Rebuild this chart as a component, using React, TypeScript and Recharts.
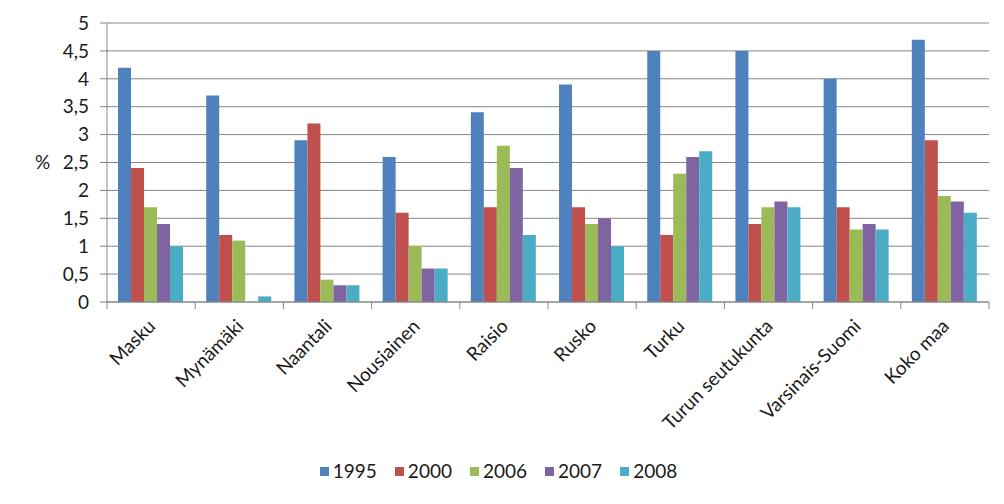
import React from 'react';
import { BarChart, Bar, XAxis, YAxis, CartesianGrid, Legend } from 'recharts';

const categories = [
  'Masku',
  'Mynämäki',
  'Naantali',
  'Nousiainen',
  'Raisio',
  'Rusko',
  'Turku',
  'Turun seutukunta',
  'Varsinais-Suomi',
  'Koko maa',
];

const years = ['1995', '2000', '2006', '2007', '2008'];

const v1995 = [4.2, 3.7, 2.9, 2.6, 3.4, 3.9, 4.5, 4.5, 4.0, 4.7];
const v2000 = [2.4, 1.2, 3.2, 1.6, 1.7, 1.7, 1.2, 1.4, 1.7, 2.9];
const v2006 = [1.7, 1.1, 0.4, 1.0, 2.8, 1.4, 2.3, 1.7, 1.3, 1.9];
const v2007 = [1.4, null, 0.3, 0.6, 2.4, 1.5, 2.6, 1.8, 1.4, 1.8];
const v2008 = [1.0, 0.1, 0.3, 0.6, 1.2, 1.0, 2.7, 1.7, 1.3, 1.6];

const yTicks = [0, 0.5, 1, 1.5, 2, 2.5, 3, 3.5, 4, 4.5, 5];

const COLORS = ['#4F81BD', '#C0504D', '#9BBB59', '#8064A2', '#4BACC6'];

const data = categories.map((name, i) => ({
  name,
  '1995': v1995[i],
  '2000': v2000[i],
  '2006': v2006[i],
  '2007': v2007[i],
  '2008': v2008[i],
}));

const W = 988;
const H = 488;
const LEFT = 99;
const RIGHT = 7;
const BAND = (W - LEFT - RIGHT) / categories.length;
const FONT = 'Lato, "Open Sans", sans-serif';
const FS = 19;
const AXIS = '#868686';
const TEXT = '#1a1a1a';

function XTick(props: any) {
  const { x, y, payload, index } = props;
  return (
    <g>
      <line x1={x - BAND / 2} y1={y} x2={x - BAND / 2} y2={y + 7} stroke={AXIS} />
      {index === categories.length - 1 && (
        <line x1={x + BAND / 2} y1={y} x2={x + BAND / 2} y2={y + 7} stroke={AXIS} />
      )}
      <text
        transform={`translate(${x + 2},${y + 22}) rotate(-45)`}
        textAnchor="end"
        dominantBaseline="middle"
        fontSize={FS}
        fontFamily={FONT}
        fill={TEXT}
      >
        {payload.value}
      </text>
    </g>
  );
}

function LegendContent() {
  return (
    <div
      style={{
        display: 'flex',
        justifyContent: 'center',
        paddingTop: 9,
        fontFamily: FONT,
        fontSize: FS,
        color: TEXT,
        lineHeight: '20px',
      }}
    >
      {years.map((y, i) => (
        <div key={y} style={{ display: 'flex', alignItems: 'center', marginRight: i < years.length - 1 ? 18 : 0 }}>
          <span style={{ width: 9, height: 9, background: COLORS[i], display: 'inline-block', marginRight: 4 }} />
          <span>{y}</span>
        </div>
      ))}
    </div>
  );
}

export default function App() {
  return (
    <div style={{ width: W, height: H }}>
      <BarChart
        width={W}
        height={H}
        data={data}
        margin={{ top: 15, right: RIGHT, left: 0, bottom: 0 }}
        barCategoryGap="12.5%"
        barGap={0}
      >
        <CartesianGrid vertical={false} stroke={AXIS} />
        <XAxis
          dataKey="name"
          height={150}
          interval={0}
          tickLine={false}
          tickSize={0}
          tickMargin={0}
          axisLine={{ stroke: AXIS }}
          tick={<XTick />}
        />
        <YAxis
          width={LEFT}
          domain={[0, 5]}
          ticks={yTicks}
          interval={0}
          tickSize={7}
          tickMargin={11}
          tickLine={{ stroke: AXIS }}
          axisLine={{ stroke: AXIS }}
          tickFormatter={(v: number) => String(v).replace('.', ',')}
          tick={{ fontSize: FS, fontFamily: FONT, fill: TEXT }}
          label={{ value: '%', position: 'insideLeft', offset: 27, fontSize: FS, fontFamily: FONT, fill: TEXT }}
        />
        <Legend verticalAlign="bottom" height={44} content={<LegendContent />} />
        {years.map((y, i) => (
          <Bar key={y} dataKey={y} fill={COLORS[i]} isAnimationActive={false} />
        ))}
      </BarChart>
    </div>
  );
}
